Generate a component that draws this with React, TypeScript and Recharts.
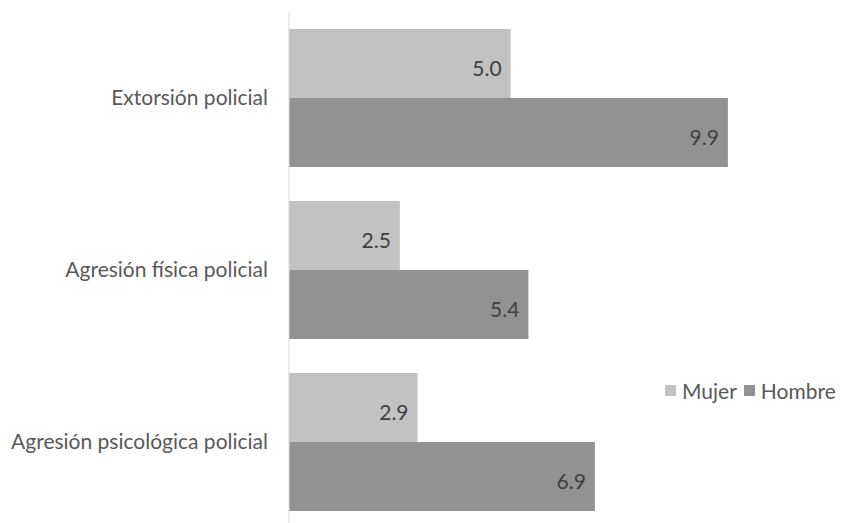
import React from 'react';
import { BarChart, Bar, XAxis, YAxis, LabelList } from 'recharts';

const categories = ['Extorsión policial', 'Agresión física policial', 'Agresión psicológica policial'];
const mujer = [5.0, 2.5, 2.9];
const hombre = [9.9, 5.4, 6.9];

const seriesNames = ['Mujer', 'Hombre'];
const seriesColors = ['#c2c2c2', '#929292'];

const data = categories.map((name, i) => ({ name, Mujer: mujer[i], Hombre: hombre[i] }));

const FONT = 'Lato, "Open Sans", sans-serif';

const CategoryTick = (props: any) => {
  const { x, y, payload } = props;
  return (
    <text x={x - 13} y={y} dy={7} textAnchor="end" fill="#595959" fontSize={21} fontFamily={FONT}>
      {payload.value}
    </text>
  );
};

const valueLabelStyle = { fill: '#404040', fontSize: 21, fontFamily: FONT };

export default function App() {
  return (
    <div style={{ position: 'absolute', left: 0, top: 0, width: 844, height: 523, overflow: 'hidden', background: '#fff' }}>
      <BarChart
        width={844}
        height={540}
        data={data}
        layout="vertical"
        margin={{ top: 12, right: 23, bottom: 12, left: 0 }}
        barGap={0}
        barSize={69}
      >
        <XAxis type="number" domain={[0, 12]} hide />
        <YAxis
          type="category"
          dataKey="name"
          width={289}
          axisLine={{ stroke: '#d9d9d9' }}
          tickLine={false}
          tick={<CategoryTick />}
        />
        <Bar dataKey="Mujer" fill={seriesColors[0]} isAnimationActive={false}>
          <LabelList
            dataKey="Mujer"
            position="insideRight"
            offset={9}
            formatter={(v: number) => v.toFixed(1)}
            style={valueLabelStyle}
            dy={5}
          />
        </Bar>
        <Bar dataKey="Hombre" fill={seriesColors[1]} isAnimationActive={false}>
          <LabelList
            dataKey="Hombre"
            position="insideRight"
            offset={9}
            formatter={(v: number) => v.toFixed(1)}
            style={valueLabelStyle}
            dy={5}
          />
        </Bar>
      </BarChart>
      <div
        style={{
          position: 'absolute',
          left: 665,
          top: 378,
          display: 'flex',
          alignItems: 'center',
          fontFamily: FONT,
          fontSize: 21,
          color: '#595959',
          whiteSpace: 'nowrap',
        }}
      >
        {seriesNames.map((n, i) => (
          <span key={n} style={{ display: 'inline-flex', alignItems: 'center', marginRight: i === 0 ? 7 : 0 }}>
            <span style={{ display: 'inline-block', width: 11, height: 11, background: seriesColors[i], marginRight: 6 }} />
            {n}
          </span>
        ))}
      </div>
    </div>
  );
}
